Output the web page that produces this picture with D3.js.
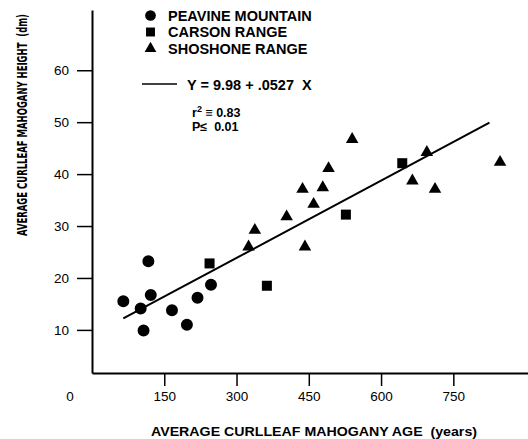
<!DOCTYPE html>
<html>
<head>
<meta charset="utf-8">
<script src="https://cdn.jsdelivr.net/npm/d3@7"></script>
<style>
  body { margin: 0; background: #fff; }
  svg { display: block; font-family: "Liberation Sans", Arial, sans-serif; }
</style>
</head>
<body>
<svg id="chart"></svg>
<script>
const width = 528;
const height = 439;

// Peavine Mountain (circles)
const peavineAge = [65, 101, 107, 117, 122, 166, 197, 219, 247];
const peavineHeight = [15.5, 14.1, 9.9, 23.2, 16.7, 13.8, 11.0, 16.2, 18.7];

// Carson Range (squares)
const carsonAge = [244, 363, 527, 644];
const carsonHeight = [22.8, 18.5, 32.2, 42.1];

// Shoshone Range (triangles)
const shoshoneAge = [325, 338, 404, 437, 442, 460, 479, 491, 540, 665, 695, 712, 847];
const shoshoneHeight = [26.0, 29.2, 31.8, 37.1, 26.0, 34.2, 37.4, 41.1, 46.7, 38.7, 44.2, 37.1, 42.3];

// fitted line as drawn
const fitAge = [65, 825];
const fitHeight = [12.2, 49.9];

const xTicks = [150, 300, 450, 600, 750];
const yTicks = [10, 20, 30, 40, 50, 60];

const legendNames = ["PEAVINE MOUNTAIN", "CARSON RANGE", "SHOSHONE RANGE"];
const equationText = "Y = 9.98 + .0527  X";

const x = d3.scaleLinear().domain([0, 905]).range([92, 528]);
const y = d3.scaleLinear().domain([1.7, 71.6]).range([373, 10]);

const svg = d3.select("#chart").attr("width", width).attr("height", height);

//! axes
const yAxis = svg
  .append("g")
  .attr("transform", `translate(${x(0)}, 0)`)
  .call(d3.axisLeft(y).tickValues(yTicks).tickSize(15).tickSizeOuter(0).tickPadding(8));
yAxis.select(".domain").attr("stroke-width", 2);
yAxis.selectAll(".tick line").attr("stroke-width", 1.5);
yAxis.selectAll("text").attr("font-size", "13.5px").attr("fill", "#000");

const xAxis = svg
  .append("g")
  .attr("transform", `translate(0, ${y(1.7)})`)
  .call(d3.axisBottom(x).tickValues(xTicks).tickSize(13).tickSizeOuter(0).tickPadding(5));
xAxis.select(".domain").attr("stroke-width", 2);
xAxis.selectAll(".tick line").attr("stroke-width", 1.5);
xAxis.selectAll("text").attr("font-size", "13.5px").attr("fill", "#000");

// shared origin label
svg
  .append("text")
  .attr("x", x(0) - 22)
  .attr("y", y(1.7) + 28)
  .attr("text-anchor", "middle")
  .attr("font-size", "13.5px")
  .text("0");

svg
  .append("text")
  .attr("x", 151)
  .attr("y", 436)
  .attr("font-size", "13.5px")
  .attr("font-weight", "bold")
  .attr("textLength", 326)
  .attr("lengthAdjust", "spacingAndGlyphs")
  .attr("xml:space", "preserve")
  .text("AVERAGE CURLLEAF MAHOGANY AGE  (years)");

svg
  .append("text")
  .attr("transform", "translate(27, 236) rotate(-90)")
  .attr("font-family", "'Liberation Sans Narrow', 'DejaVu Sans Condensed', sans-serif")
  .attr("font-size", "13.5px")
  .attr("font-weight", "bold")
  .attr("textLength", 222)
  .attr("lengthAdjust", "spacingAndGlyphs")
  .attr("xml:space", "preserve")
  .text("AVERAGE CURLLEAF MAHOGANY HEIGHT  (dm)");

//! fit line
svg
  .append("line")
  .attr("x1", x(fitAge[0]))
  .attr("y1", y(fitHeight[0]))
  .attr("x2", x(fitAge[1]))
  .attr("y2", y(fitHeight[1]))
  .attr("stroke", "#000")
  .attr("stroke-width", 2);

//! points
const groups = [
  { age: peavineAge, h: peavineHeight, type: d3.symbolCircle, size: 113 },
  { age: carsonAge, h: carsonHeight, type: d3.symbolSquare, size: 100 },
  { age: shoshoneAge, h: shoshoneHeight, type: d3.symbolTriangle, size: 68 },
];

groups.forEach((g) => {
  svg
    .append("g")
    .selectAll("path")
    .data(g.age.map((a, i) => ({ age: a, height: g.h[i] })))
    .join("path")
    .attr("transform", (d) => `translate(${x(d.age)}, ${y(d.height)})`)
    .attr("d", d3.symbol().type(g.type).size(g.size))
    .attr("fill", "#000");
});

//! legend
const legend = svg.append("g");
const legendSizes = [90, 80, 60];
legendNames.forEach((name, i) => {
  legend
    .append("path")
    .attr("transform", `translate(150.5, ${15.5 + i * 16.5})`)
    .attr("d", d3.symbol().type(groups[i].type).size(legendSizes[i]))
    .attr("fill", "#000");
  legend
    .append("text")
    .attr("x", 168)
    .attr("y", 20.5 + i * 16.5)
    .attr("font-size", "14.5px")
    .attr("font-weight", "bold")
    .text(name);
});

legend
  .append("line")
  .attr("x1", 142)
  .attr("x2", 177)
  .attr("y1", 84)
  .attr("y2", 84)
  .attr("stroke", "#000")
  .attr("stroke-width", 1.5);
legend
  .append("text")
  .attr("x", 187)
  .attr("y", 90)
  .attr("font-size", "14.5px")
  .attr("font-weight", "bold")
  .attr("xml:space", "preserve")
  .text(equationText);

const r2 = legend
  .append("text")
  .attr("x", 192)
  .attr("y", 117)
  .attr("font-size", "12.5px")
  .attr("font-weight", "bold")
  .attr("xml:space", "preserve");
r2.append("tspan").text("r");
r2.append("tspan").attr("dy", -5).attr("font-size", "9px").text("2");
r2.append("tspan").attr("dy", 5).text(" \u2261 0.83");

legend
  .append("text")
  .attr("x", 192)
  .attr("y", 131)
  .attr("font-size", "12.5px")
  .attr("font-weight", "bold")
  .attr("xml:space", "preserve")
  .text("P\u2264  0.01");
</script>
</body>
</html>
